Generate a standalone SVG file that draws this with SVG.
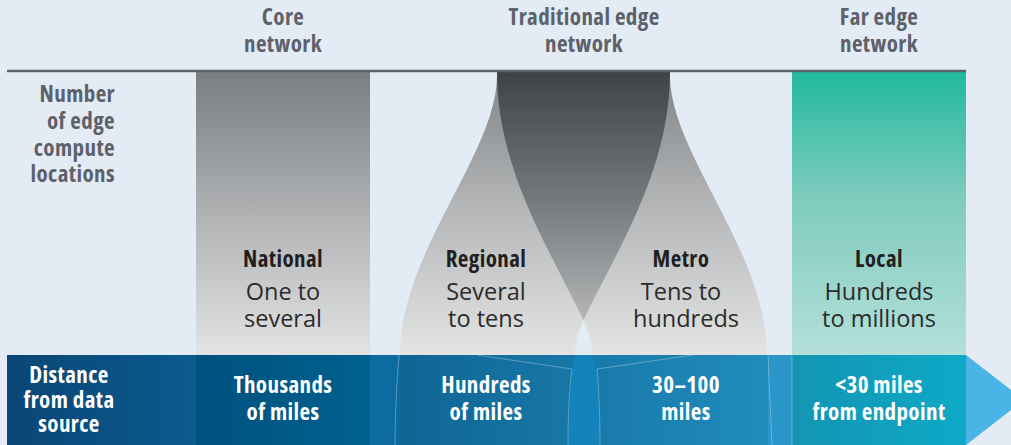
<svg xmlns="http://www.w3.org/2000/svg" width="1011" height="445" viewBox="0 0 1011 445">
<defs>
<linearGradient id="gCore" x1="0" y1="72" x2="0" y2="355" gradientUnits="userSpaceOnUse"><stop offset="0" stop-color="#7a7e82"/><stop offset="0.5" stop-color="#afb1b3"/><stop offset="1" stop-color="#e3e3e3"/></linearGradient>
<linearGradient id="gLobe" x1="0" y1="72" x2="0" y2="355" gradientUnits="userSpaceOnUse"><stop offset="0" stop-color="#818488"/><stop offset="0.5" stop-color="#b6b8b9"/><stop offset="1" stop-color="#e4e4e4"/></linearGradient>
<linearGradient id="gDark" x1="0" y1="72" x2="0" y2="320" gradientUnits="userSpaceOnUse"><stop offset="0" stop-color="#3f4246"/><stop offset="0.55" stop-color="#7a7d80"/><stop offset="1" stop-color="#b3b5b6"/></linearGradient>
<linearGradient id="gLocal" x1="0" y1="72" x2="0" y2="355" gradientUnits="userSpaceOnUse"><stop offset="0" stop-color="#22ba9e"/><stop offset="0.45" stop-color="#7fcbbe"/><stop offset="1" stop-color="#b4e0da"/></linearGradient>
<linearGradient id="gB1" x1="7" y1="0" x2="196" y2="0" gradientUnits="userSpaceOnUse"><stop offset="0" stop-color="#0a4676"/><stop offset="1" stop-color="#0b5a8e"/></linearGradient>
<linearGradient id="gB2" x1="196" y1="0" x2="370" y2="0" gradientUnits="userSpaceOnUse"><stop offset="0" stop-color="#00517d"/><stop offset="1" stop-color="#00618f"/></linearGradient>
<linearGradient id="gB3" x1="400" y1="0" x2="768" y2="0" gradientUnits="userSpaceOnUse"><stop offset="0" stop-color="#0f6594"/><stop offset="1" stop-color="#208cbd"/></linearGradient>
<linearGradient id="gB4" x1="792" y1="0" x2="966" y2="0" gradientUnits="userSpaceOnUse"><stop offset="0" stop-color="#1395b3"/><stop offset="1" stop-color="#0ea9c8"/></linearGradient>
</defs>
<style>
.hd{font-family:"Open Sans","Liberation Sans Narrow",sans-serif;font-stretch:condensed;font-weight:700;font-size:23px;letter-spacing:0.4px;fill:#5d6169;text-anchor:middle}
.hr{text-anchor:end}
.lb{font-family:"Open Sans","Liberation Sans Narrow",sans-serif;font-stretch:condensed;font-weight:700;font-size:23px;letter-spacing:0.4px;fill:#231f20;text-anchor:middle}
.lr{font-family:"Open Sans",sans-serif;font-weight:400;font-size:23.5px;fill:#2b2b2b;text-anchor:middle}
.bt{font-family:"Open Sans","Liberation Sans Narrow",sans-serif;font-stretch:condensed;font-weight:700;font-size:23px;letter-spacing:0.4px;fill:#ffffff;text-anchor:middle}
.fl{fill:none;stroke:#ffffff;stroke-opacity:0.3;stroke-width:1}
</style>
<rect x="0" y="0" width="1011" height="445" fill="#e3ebf5"/>

<g id="headers">
<text class="hd" x="283" y="25">Core</text>
<text class="hd" x="283" y="52">network</text>
<text class="hd" x="584" y="25">Traditional edge</text>
<text class="hd" x="584" y="52">network</text>
<text class="hd" x="879" y="25">Far edge</text>
<text class="hd" x="879" y="52">network</text>
<text class="hd hr" x="115" y="102">Number</text>
<text class="hd hr" x="115" y="129">of edge</text>
<text class="hd hr" x="115" y="156">compute</text>
<text class="hd hr" x="115" y="182">locations</text>
</g>

<g id="core">
<rect x="196" y="72" width="174" height="283" fill="url(#gCore)"/>
<text class="lb" x="283" y="267">National</text>
<text class="lr" x="283" y="300">One to</text>
<text class="lr" x="283" y="327">several</text>
</g>

<g id="regional">
<path d="M497,72 L670,72 C670,170 617,250 583.5,320 C576.5,335 575,345 575,355 L400,355 C400,250 500,150 497,72 Z" fill="url(#gLobe)"/>
</g>
<g id="metro">
<path d="M497,72 L670,72 C667,150 767,250 767,355 L592,355 C592,345 590.5,335 583.5,320 C550,250 497,170 497,72 Z" fill="url(#gLobe)"/>
</g>
<g id="overlap">
<path d="M497,72 L670,72 C670,170 617,250 583.5,320 C550,250 497,170 497,72 Z" fill="url(#gDark)"/>
</g>
<g id="regional-label">
<text class="lb" x="486" y="267">Regional</text>
<text class="lr" x="486" y="300">Several</text>
<text class="lr" x="486" y="327">to tens</text>
</g>
<g id="metro-label">
<text class="lb" x="681" y="267">Metro</text>
<text class="lr" x="681" y="300">Tens to</text>
<text class="lr" x="686" y="327">hundreds</text>
</g>

<g id="local">
<rect x="792" y="72" width="174" height="283" fill="url(#gLocal)"/>
<text class="lb" x="879" y="267">Local</text>
<text class="lr" x="879" y="300">Hundreds</text>
<text class="lr" x="879" y="327">to millions</text>
</g>

<g id="connectors">
<line x1="7" y1="71" x2="966" y2="71" stroke="#5f636a" stroke-width="2.5"/>
</g>

<g id="distance-bar">
<rect x="7" y="355" width="189" height="90" fill="url(#gB1)"/>
<rect x="196" y="355" width="174" height="90" fill="url(#gB2)"/>
<rect x="370" y="355" width="30" height="90" fill="#0c6ba1"/>
<rect x="400" y="355" width="368" height="90" fill="url(#gB3)"/>
<path d="M575,355 L592,355 L597,369 L600,445 L568,445 L572,369 Z" fill="#1383bc"/>
<rect x="768" y="355" width="24" height="90" fill="#2a96c9"/>
<rect x="792" y="355" width="174" height="90" fill="url(#gB4)"/>
<polygon points="966,355 1024,400 966,445" fill="#4ab4e6"/>
<path class="fl" d="M399,355 C397,380 395,410 395,445"/>
<path class="fl" d="M477,355 L572,369 C569,390 568,420 568,445"/>
<path class="fl" d="M693,355 L597,369 C599,390 600,420 600,445"/>
<path class="fl" d="M768,355 L772,445"/>
<path class="fl" d="M792,355 L792,445" stroke-opacity="0.15"/>
<text class="bt" x="69" y="383">Distance</text>
<text class="bt" x="69" y="408">from data</text>
<text class="bt" x="69" y="432">source</text>
<text class="bt" x="283" y="393">Thousands</text>
<text class="bt" x="283" y="420">of miles</text>
<text class="bt" x="486" y="393">Hundreds</text>
<text class="bt" x="486" y="420">of miles</text>
<text class="bt" x="686" y="393">30–100</text>
<text class="bt" x="686" y="420">miles</text>
<text class="bt" x="879" y="393">&lt;30 miles</text>
<text class="bt" x="879" y="420">from endpoint</text>
</g>
</svg>
